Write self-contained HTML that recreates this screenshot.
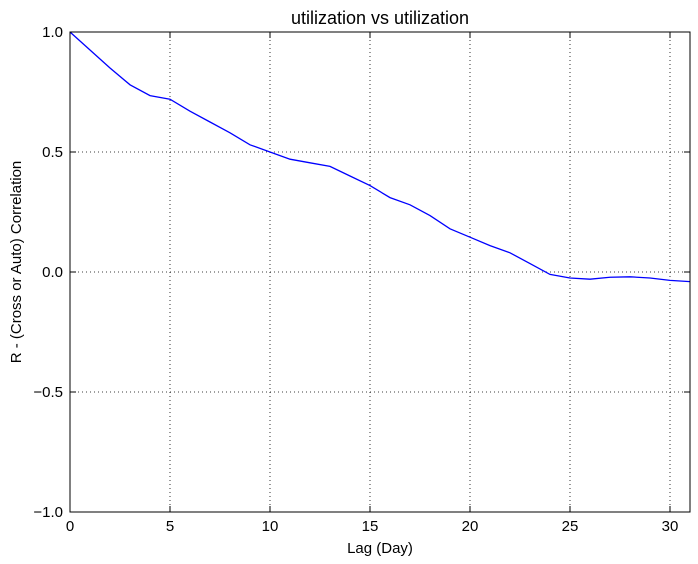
<!DOCTYPE html>
<html><head><meta charset="utf-8"><style>
body{margin:0;background:#fff;}
svg{display:block;font-family:"Liberation Sans",sans-serif;}
</style></head><body>
<svg id="chart" width="698" height="564">
<text x="380" y="24" text-anchor="middle" font-size="18">utilization vs utilization</text>
<g id="grid"></g>
<polyline id="line" fill="none" stroke="#0000ff" stroke-width="1.3"/>
<rect x="70" y="32" width="620" height="480" fill="none" stroke="#000" stroke-width="1"/>
<g id="ticks"></g>
<text x="380" y="553" text-anchor="middle" font-size="15">Lag (Day)</text>
<text transform="translate(21,262) rotate(-90)" text-anchor="middle" font-size="15">R - (Cross or Auto) Correlation</text>
</svg>
<script>
const lags=[0,1,2,3,4,5,6,7,8,9,10,11,12,13,14,15,16,17,18,19,20,21,22,23,24,25,26,27,28,29,30,31];
const rValues=[1.0,0.925,0.85,0.78,0.735,0.72,0.67,0.625,0.58,0.53,0.5,0.47,0.455,0.44,0.40,0.36,0.31,0.28,0.235,0.18,0.145,0.11,0.08,0.035,-0.01,-0.025,-0.03,-0.022,-0.02,-0.025,-0.035,-0.04];
const xTicks=[0,5,10,15,20,25,30];
const yTicks=[-1.0,-0.5,0.0,0.5,1.0];
const yTickLabels=["\u22121.0","\u22120.5","0.0","0.5","1.0"];
const NS="http://www.w3.org/2000/svg";
const X=v=>70+v*(620/31);
const Y=v=>272-v*240;
const grid=document.getElementById('grid'),ticks=document.getElementById('ticks');
function mk(p,tag,a){const e=document.createElementNS(NS,tag);for(const k in a)e.setAttribute(k,a[k]);p.appendChild(e);return e;}
xTicks.forEach(t=>{
 const g=mk(grid,'line',{x1:X(t),x2:X(t),y1:32,y2:512,stroke:'#000','stroke-dasharray':'1,3','stroke-width':0.8});
 
 
 mk(ticks,'line',{x1:X(t),x2:X(t),y1:512,y2:506,stroke:'#000'});
 mk(ticks,'line',{x1:X(t),x2:X(t),y1:32,y2:38,stroke:'#000'});
 const l=mk(ticks,'text',{x:X(t),y:531,'text-anchor':'middle','font-size':15});
 l.textContent=t;
 
 
});
yTicks.forEach((t,i)=>{
 const g=mk(grid,'line',{x1:70,x2:690,y1:Y(t),y2:Y(t),stroke:'#000','stroke-dasharray':'1,3','stroke-width':0.8});
 
 
 mk(ticks,'line',{x1:70,x2:76,y1:Y(t),y2:Y(t),stroke:'#000'});
 mk(ticks,'line',{x1:684,x2:690,y1:Y(t),y2:Y(t),stroke:'#000'});
 const l=mk(ticks,'text',{x:63,y:Y(t)+5,'text-anchor':'end','font-size':15});
 l.textContent=yTickLabels[i];
 
 
});
document.getElementById('line').setAttribute('points',lags.map((d,i)=>X(d)+','+Y(rValues[i])).join(' '));
</script>
</body></html>
